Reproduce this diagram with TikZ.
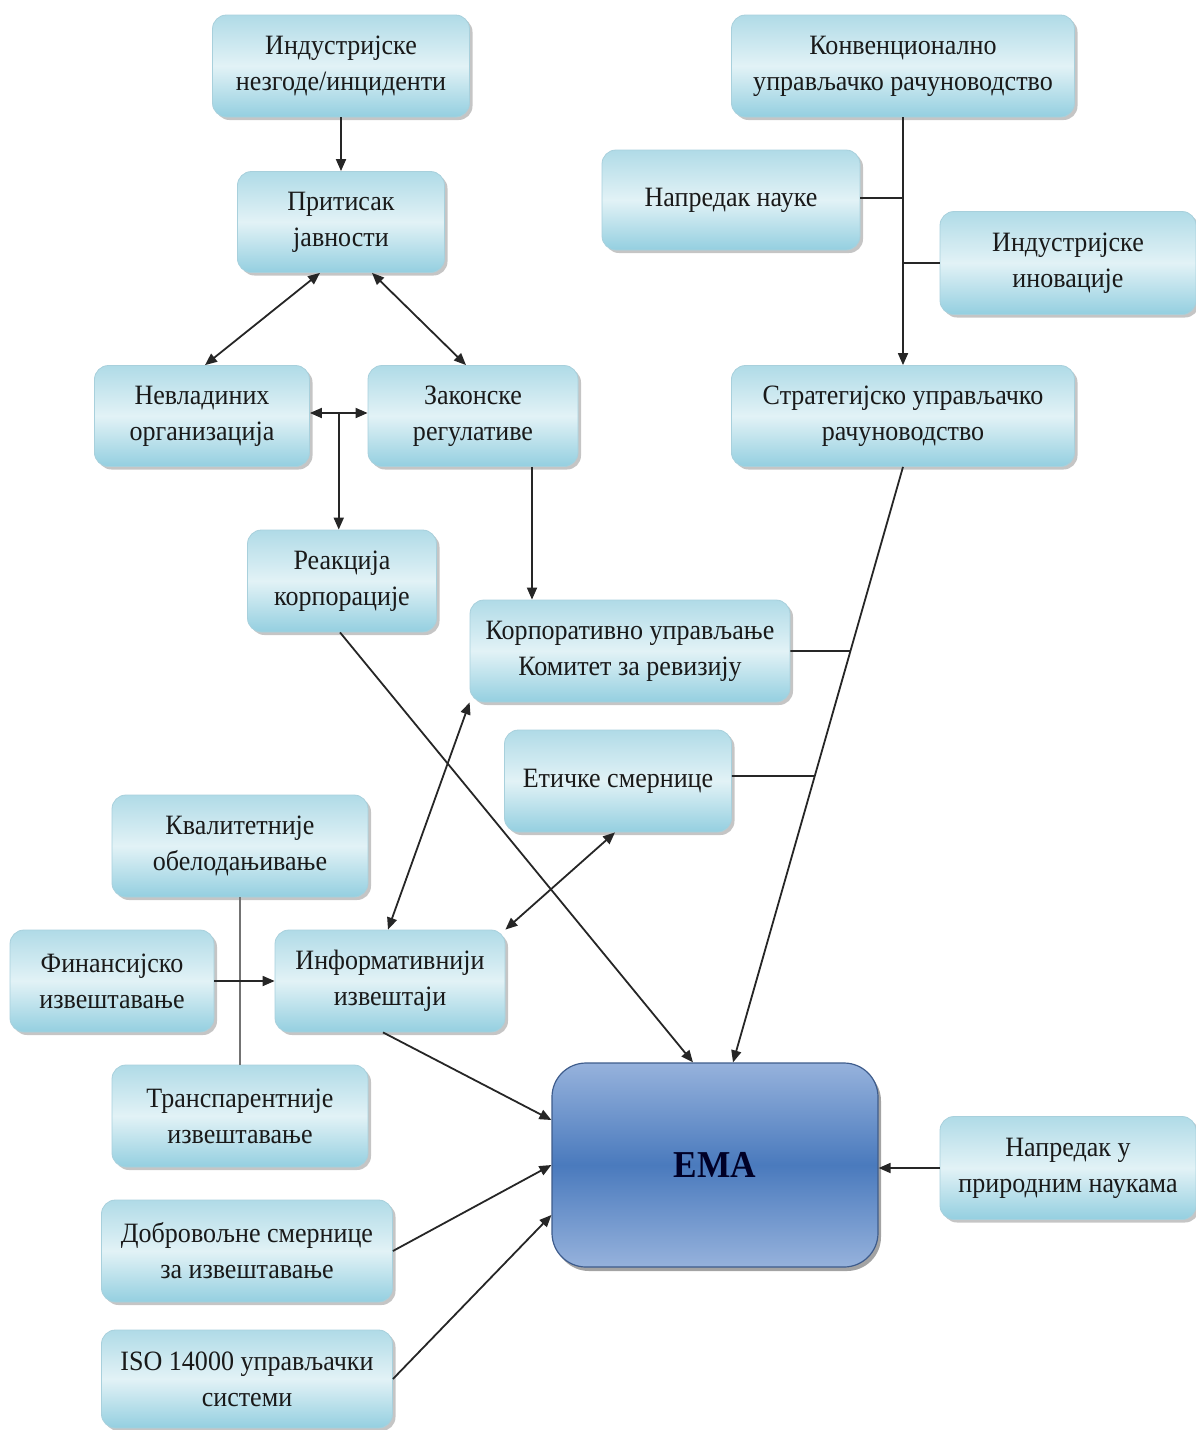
\documentclass[tikz,border=0pt]{standalone}
\usepackage{fontspec}
\setmainfont{Liberation Serif}[FakeStretch=0.93]
\usetikzlibrary{arrows.meta,shadows,calc,intersections}
\definecolor{bxtop}{RGB}{176,219,231}
\definecolor{bxmid}{RGB}{226,242,246}
\definecolor{bxbot}{RGB}{148,207,224}
\definecolor{bxline}{RGB}{168,208,220}
\definecolor{ematop}{RGB}{150,178,220}
\definecolor{emamid}{RGB}{74,122,189}
\definecolor{emaline}{RGB}{62,92,140}
\tikzset{
  box/.style={rectangle, rounded corners=14pt, draw=bxline, line width=0.8pt,
    top color=bxtop, bottom color=bxbot, middle color=bxmid,
    drop shadow={shadow xshift=3pt, shadow yshift=-3pt, fill=black!45, opacity=0.5},
    align=center, font=\fontsize{28}{36}\selectfont, text=black!90, inner sep=0pt},
  emabox/.style={rectangle, rounded corners=34pt, draw=emaline, line width=1.2pt,
    top color=ematop, bottom color=ematop, middle color=emamid,
    drop shadow={shadow xshift=3pt, shadow yshift=-4pt, fill=black!60, opacity=0.6},
    align=center, font=\fontsize{38}{44}\selectfont\bfseries, text=black!85!blue, inner sep=0pt},
  conn/.style={draw=black!85, line width=1.8pt},
  arr/.style={conn, -{Triangle[length=12pt,width=10pt]}},
  darr/.style={conn, {Triangle[length=12pt,width=10pt]}-{Triangle[length=12pt,width=10pt]}},
  grayline/.style={draw=black!55, line width=1.8pt}
}
\begin{document}
\begin{tikzpicture}[x=1pt,y=-1pt]
\useasboundingbox (0,0) rectangle (1196,1430);
% nodes
\node[box, minimum width=257pt, minimum height=102pt] (ind) at (341,66) {Индустријске\\незгоде/инциденти};
\node[box, minimum width=207pt, minimum height=101pt] (pri) at (341,222) {Притисак\\јавности};
\node[box, minimum width=215pt, minimum height=101pt] (nev) at (202,416) {Невладиних\\организација};
\node[box, minimum width=210pt, minimum height=101pt] (zak) at (473,416) {Законске\\регулативе};
\node[box, minimum width=189pt, minimum height=102pt] (rea) at (342,581) {Реакција\\корпорације};
\node[box, minimum width=320pt, minimum height=102pt] (kor) at (630,651) {Корпоративно управљање\\Комитет за ревизију};
\node[box, minimum width=227pt, minimum height=102pt] (eti) at (618,781) {Етичке смернице};
\node[box, minimum width=256pt, minimum height=102pt] (kva) at (240,846) {Квалитетније\\обелодањивање};
\node[box, minimum width=204pt, minimum height=102pt] (fin) at (112,981) {Финансијско\\извештавање};
\node[box, minimum width=230pt, minimum height=102pt] (inf) at (390,981) {Информативнији\\извештаји};
\node[box, minimum width=256pt, minimum height=102pt] (tra) at (240,1116) {Транспарентније\\извештавање};
\node[box, minimum width=291pt, minimum height=102pt] (dob) at (247,1251) {Добровољне смернице\\за извештавање};
\node[box, minimum width=291pt, minimum height=98pt] (iso) at (247,1379) {ISO 14000 управљачки\\системи};
\node[emabox, minimum width=326pt, minimum height=204pt] (ema) at (715,1165) {EMA};
\node[box, minimum width=256pt, minimum height=103pt] (npn) at (1068,1168) {Напредак у\\природним наукама};
\node[box, minimum width=343pt, minimum height=102pt] (kon) at (903,66) {Конвенционално\\управљачко рачуноводство};
\node[box, minimum width=258pt, minimum height=100pt] (nau) at (731,200) {Напредак науке};
\node[box, minimum width=256pt, minimum height=103pt] (ino) at (1068,263) {Индустријске\\иновације};
\node[box, minimum width=343pt, minimum height=101pt] (str) at (903,416) {Стратегијско управљачко\\рачуноводство};
% connectors
\draw[arr] (ind) -- (pri);
\draw[darr] ([xshift=-21pt]pri.south) -- ([xshift=3pt]nev.north);
\draw[darr] ([xshift=31pt]pri.south) -- ([xshift=-7pt]zak.north);
\coordinate (tj) at ($(nev.east)!0.5!(zak.west)$);
\draw[darr] ([yshift=3pt]nev.east) -- ([yshift=3pt]zak.west);
\draw[arr] ([yshift=3pt]tj) -- (rea.north -| tj);
\coordinate (zs) at ([xshift=59pt]zak.south);
\draw[arr] (zs) -- (kor.north -| zs);
\draw[arr] ([xshift=-2pt]rea.south) -- ([xshift=-22pt]ema.north);
% strategic line with junctions
\draw[arr, name path=sl] (str.south) -- ([xshift=18pt]ema.north);
\coordinate (ke) at (kor.east);
\coordinate (ee) at ([yshift=5pt]eti.east);
\path[name path=h1] (ke) -- ++(200,0);
\path[name path=h2] (ee) -- ++(200,0);
\path[name intersections={of=sl and h1, by=j1}];
\path[name intersections={of=sl and h2, by=j2}];
\draw[conn] (ke) -- (j1);
\draw[conn] (ee) -- (j2);
% conventional accounting trunk
\draw[arr] (kon.south) -- (str.north);
\coordinate (ne) at ([yshift=2pt]nau.east);
\draw[conn] (ne) -- (ne -| kon.south);
\draw[conn] (ino.west) -- (ino.west -| kon.south);
% informative reports
\draw[darr] ([xshift=-2pt]inf.north) -- (kor.south west);
\draw[darr] (inf.north east) -- ([xshift=-3pt]eti.south);
\draw[grayline] (kva.south) -- (tra.north);
\draw[arr] (fin.east) -- (inf.west);
\draw[arr] ([xshift=-7pt]inf.south) -- ([yshift=45pt]ema.west);
\draw[arr] (dob.east) -- (ema.west);
\draw[arr] (iso.east) -- ([yshift=-50pt]ema.west);
\draw[arr] (npn.west) -- (npn.west -| ema.east);
\end{tikzpicture}
\end{document}
